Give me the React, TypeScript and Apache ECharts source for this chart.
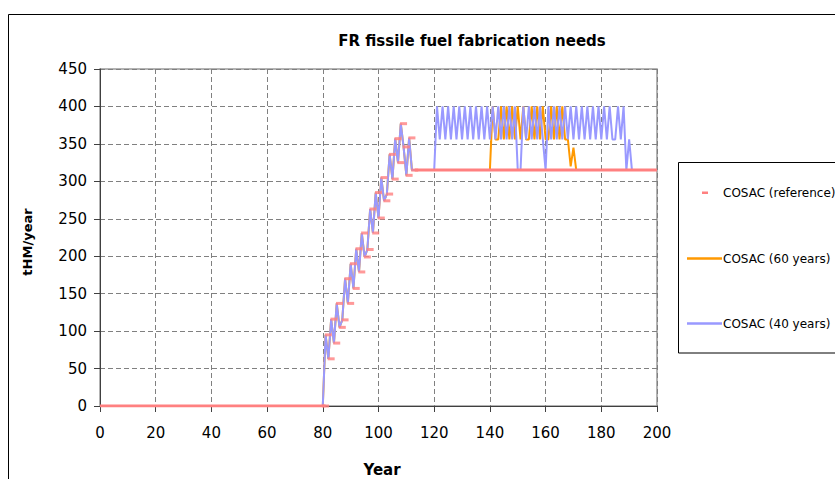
import React, { useEffect, useRef } from "react";
import * as echarts from "echarts";

// ---- Data ----
const chartTitle = "FR fissile fuel fabrication needs";
const xAxisTitle = "Year";
const yAxisTitle = "tHM/year";
const seriesNames = ["COSAC (reference)", "COSAC (60 years)", "COSAC (40 years)"];

// Zero production before the FR fleet starts
const zeroRunYears = [0, 80];
const refZeroRunYears = [0, 81];

// Ramp-up (40/60 years scenarios share the same ramp)
const rampYears = [81, 82, 83, 84, 85, 86, 87, 88, 89, 90, 91, 92, 93, 94, 95, 96, 97, 98, 99, 100, 101, 102, 103, 104, 105, 106, 107, 108, 109, 110, 111];
const rampValues = [95, 63, 116, 84, 137, 105, 115, 170, 137, 190, 157, 210, 179, 231, 199, 209, 263, 231, 285, 251, 305, 274, 283, 336, 303, 357, 325, 377, 346, 308, 358];
// Reference scenario dashes sit one year later
const refRampYears = [82, 83, 84, 85, 86, 87, 88, 89, 90, 91, 92, 93, 94, 95, 96, 97, 98, 99, 100, 101, 102, 103, 104, 105, 106, 107, 108, 109, 110, 111, 112];

const plateauValue = 315;
const refPlateauYears = [113, 200];

// 40 years scenario
const blueFlatYears = [112, 120];
const blueOscYears = [121, 122, 123, 124, 125, 126, 127, 128, 129, 130, 131, 132, 133, 134, 135, 136, 137, 138, 139, 140, 141, 142, 143, 144, 145, 146, 147, 148, 149, 150, 151, 152, 153, 154, 155, 156, 157, 158, 159, 160, 161, 162, 163, 164, 165, 166, 167, 168, 169, 170, 171, 172, 173, 174, 175, 176, 177, 178, 179, 180, 181, 182, 183, 184, 185, 186, 187, 188, 189, 190, 191];
const blueOscValues = [400, 356, 400, 356, 400, 356, 400, 356, 400, 356, 400, 356, 400, 356, 400, 356, 400, 356, 400, 356, 400, 356, 400, 356, 400, 356, 400, 356, 400, 315, 315, 400, 356, 400, 356, 400, 356, 400, 356, 315, 400, 356, 400, 356, 400, 356, 400, 356, 400, 356, 400, 356, 400, 356, 400, 356, 400, 356, 400, 356, 400, 356, 400, 356, 356, 400, 356, 400, 315, 356, 315];
const blueEndYear = 200;

// 60 years scenario
const orangeFlatYears = [112, 140];
const orangeOscYears = [141, 142, 143, 144, 145, 146, 147, 148, 149, 150, 151, 152, 153, 154, 155, 156, 157, 158, 159, 160, 161, 162, 163, 164, 165, 166, 167, 168, 169, 170, 171];
const orangeOscValues = [400, 356, 356, 400, 356, 400, 356, 400, 356, 400, 356, 400, 356, 356, 400, 356, 400, 356, 400, 356, 356, 400, 356, 400, 356, 400, 356, 356, 320, 345, 315];
const orangeEndYear = 200;

const FONT = "DejaVu Sans";

function pairs(xs: number[], ys: number[]) {
  return xs.map((x, i) => [x, ys[i]]);
}

export default function App() {
  const ref = useRef<HTMLDivElement>(null);
  useEffect(() => {
    if (!ref.current) return;
    const chart = echarts.init(ref.current, undefined, { renderer: "svg" });

    const ramp = pairs(rampYears, rampValues);
    const blueData = [
      ...zeroRunYears.map((y) => [y, 0]),
      ...ramp,
      ...blueFlatYears.map((y) => [y, plateauValue]),
      ...pairs(blueOscYears, blueOscValues),
      [blueEndYear, plateauValue],
    ];
    const orangeData = [
      ...zeroRunYears.map((y) => [y, 0]),
      ...ramp,
      ...orangeFlatYears.map((y) => [y, plateauValue]),
      ...pairs(orangeOscYears, orangeOscValues),
      [orangeEndYear, plateauValue],
    ];
    const refDashes = [
      [refZeroRunYears[1], 0],
      ...pairs(refRampYears, rampValues),
      [refPlateauYears[0], plateauValue],
    ];

    const pink = "#FF8080";
    const orange = "#FF9900";
    const blue = "#9999FF";

    const legendText = (text: string, y: number) => ({
      type: "text",
      x: 723,
      y,
      style: {
        text,
        fontFamily: FONT,
        fontSize: 12,
        fill: "#000",
        align: "left",
        verticalAlign: "middle",
        textAlign: "left",
        textVerticalAlign: "middle",
      },
    });

    chart.setOption({
      animation: false,
      backgroundColor: "#ffffff",
      grid: {
        left: 100,
        top: 69,
        width: 557,
        height: 337,
        show: true,
        borderColor: "#9a9a9a",
        borderWidth: 1.5,
        backgroundColor: "transparent",
      },
      xAxis: {
        type: "value",
        min: 0,
        max: 200,
        interval: 20,
        axisLine: { show: true, onZero: false, lineStyle: { color: "#404040", width: 1 } },
        axisTick: { show: true, inside: false, length: 6, lineStyle: { color: "#404040" } },
        axisLabel: { color: "#000", fontFamily: FONT, fontSize: 15, margin: 19 },
        splitLine: { show: true, lineStyle: { color: "#808080", type: [5, 3], width: 1 } },
      },
      yAxis: {
        type: "value",
        min: 0,
        max: 450,
        interval: 50,
        axisLine: { show: true, lineStyle: { color: "#404040", width: 1 } },
        axisTick: { show: true, inside: false, length: 6, lineStyle: { color: "#404040" } },
        axisLabel: { color: "#000", fontFamily: FONT, fontSize: 15, margin: 13 },
        splitLine: { show: true, lineStyle: { color: "#808080", type: [5, 3], width: 1 } },
      },
      series: [
        {
          name: seriesNames[1],
          type: "line",
          data: orangeData,
          symbol: "none",
          showSymbol: false,
          lineStyle: { color: orange, width: 2 },
          z: 2,
        },
        {
          name: seriesNames[2],
          type: "line",
          data: blueData,
          symbol: "none",
          showSymbol: false,
          lineStyle: { color: blue, width: 2 },
          z: 3,
        },
        {
          name: seriesNames[0],
          type: "line",
          data: refZeroRunYears.map((y) => [y, 0]),
          symbol: "none",
          showSymbol: false,
          lineStyle: { color: pink, width: 3 },
          z: 4,
        },
        {
          name: seriesNames[0],
          type: "line",
          data: refPlateauYears.map((y) => [y, plateauValue]),
          symbol: "none",
          showSymbol: false,
          lineStyle: { color: pink, width: 3 },
          z: 4,
        },
        {
          name: seriesNames[0],
          type: "scatter",
          data: refDashes,
          symbol: "rect",
          symbolSize: [7, 3],
          itemStyle: { color: pink },
          z: 5,
        },
      ],
      graphic: [
        {
          type: "rect",
          shape: { x: 8.5, y: 14.5, width: 900, height: 500 },
          style: { fill: "none", stroke: "#000", lineWidth: 1 },
          silent: true,
        },
        {
          type: "text",
          x: 472,
          y: 41,
          style: {
            text: chartTitle,
            fontFamily: FONT,
            fontSize: 15,
            fontWeight: "bold",
            fill: "#000",
            align: "center",
            verticalAlign: "middle",
            textAlign: "center",
            textVerticalAlign: "middle",
          },
        },
        {
          type: "text",
          x: 382,
          y: 470,
          style: {
            text: xAxisTitle,
            fontFamily: FONT,
            fontSize: 15,
            fontWeight: "bold",
            fill: "#000",
            align: "center",
            verticalAlign: "middle",
            textAlign: "center",
            textVerticalAlign: "middle",
          },
        },
        {
          type: "text",
          x: 27,
          y: 242,
          rotation: Math.PI / 2,
          style: {
            text: yAxisTitle,
            fontFamily: FONT,
            fontSize: 13,
            fontWeight: "bold",
            fill: "#000",
            align: "center",
            verticalAlign: "middle",
            textAlign: "center",
            textVerticalAlign: "middle",
          },
        },
        // Legend
        {
          type: "rect",
          shape: { x: 678.5, y: 162.5, width: 200, height: 190.5 },
          style: { fill: "#fff", stroke: "#000", lineWidth: 1 },
        },
        {
          type: "rect",
          shape: { x: 702, y: 191.5, width: 6, height: 2.5 },
          style: { fill: pink },
        },
        legendText(seriesNames[0], 193),
        {
          type: "line",
          shape: { x1: 687, y1: 258.5, x2: 722, y2: 258.5 },
          style: { stroke: orange, lineWidth: 2.5 },
        },
        legendText(seriesNames[1], 258.5),
        {
          type: "line",
          shape: { x1: 687, y1: 323.5, x2: 722, y2: 323.5 },
          style: { stroke: blue, lineWidth: 2.5 },
        },
        legendText(seriesNames[2], 323.5),
      ],
    });

    return () => chart.dispose();
  }, []);

  return (
    <div
      ref={ref}
      style={{ position: "absolute", left: 0, top: 0, width: 835, height: 479 }}
    />
  );
}
